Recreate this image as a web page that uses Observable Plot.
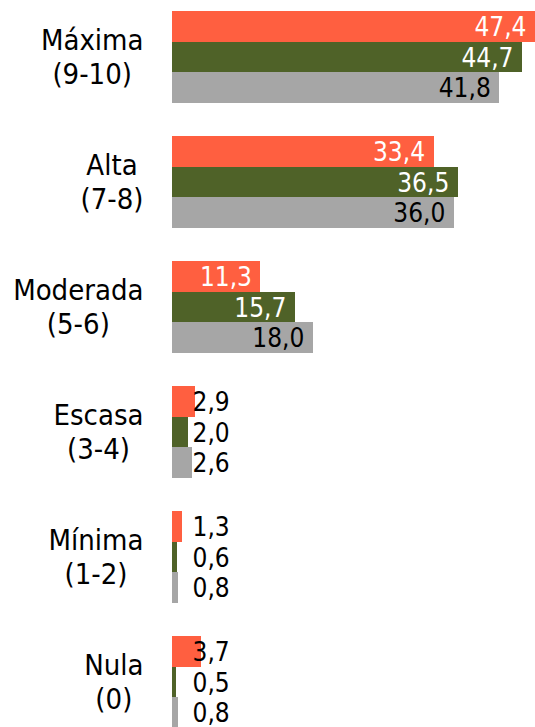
<!DOCTYPE html>
<html>
<head>
<meta charset="utf-8">
<script src="https://cdn.jsdelivr.net/npm/d3@7"></script>
<script src="https://cdn.jsdelivr.net/npm/@observablehq/plot@0.6"></script>
<style>
  html, body { margin: 0; padding: 0; background: #fff; overflow: hidden; }
</style>
</head>
<body>
<div id="chart"></div>
<script>
const categories = ["Máxima\n(9-10)", "Alta\n(7-8)", "Moderada\n(5-6)", "Escasa\n(3-4)", "Mínima\n(1-2)", "Nula\n(0)"];
const series = ["Serie 1", "Serie 2", "Serie 3"];
const values1 = [47.4, 33.4, 11.3, 2.9, 1.3, 3.7];
const values2 = [44.7, 36.5, 15.7, 2.0, 0.6, 0.5];
const values3 = [41.8, 36.0, 18.0, 2.6, 0.8, 0.8];
const colors = ["#ff5f40", "#4f6228", "#a6a6a6"];

const allValues = [values1, values2, values3];
const data = [];
categories.forEach((c, i) => {
  series.forEach((s, j) => {
    data.push({category: c, series: s, value: allValues[j][i], idx: j});
  });
});

const FONT = "DejaVu Sans Condensed";
const labelSize = 29;
const valueSize = 26;
const xMax = 46.36;
const fmt = v => v.toFixed(1).replace(".", ",");

const canvas = document.createElement("canvas");
const ctx = canvas.getContext("2d");
ctx.font = `${labelSize}px "${FONT}"`;

const big = data.filter(d => d.value >= 5);
const small = data.filter(d => d.value < 5);

const labelMarks = categories.map(c => {
  const w = Math.max(...c.split("\n").map(l => ctx.measureText(l).width));
  return Plot.text([c], {
    fy: d => d,
    text: d => d,
    frameAnchor: "left",
    textAnchor: "middle",
    dx: -29 - w / 2,
    dy: -1,
    lineHeight: 1.17,
    fontSize: labelSize,
    fill: "#000"
  });
});

const plot = Plot.plot({
  width: 535,
  height: 727,
  marginLeft: 172,
  marginRight: 0,
  marginTop: 11,
  marginBottom: -1,
  style: {fontFamily: FONT, background: "#fff", overflow: "hidden"},
  x: {domain: [0, xMax], axis: null},
  y: {domain: series, axis: null, paddingInner: 0, paddingOuter: 0, round: false},
  fy: {domain: categories, axis: null, paddingInner: 0.264, paddingOuter: 0, round: false},
  color: {domain: series, range: colors},
  marks: [
    Plot.barX(data, {x: "value", y: "series", fy: "category", fill: "series", insetTop: 0, insetBottom: 0, shapeRendering: "crispEdges"}),
    Plot.text(big, {
      x: d => Math.min(d.value, xMax),
      y: "series",
      fy: "category",
      text: d => fmt(d.value),
      textAnchor: "end",
      dx: -9,
      dy: 1,
      fontSize: valueSize,
      fill: d => d.idx === 2 ? "#000" : "#fff"
    }),
    Plot.text(small, {
      x: 0,
      y: "series",
      fy: "category",
      text: d => fmt(d.value),
      textAnchor: "start",
      dx: 20,
      dy: 1,
      fontSize: valueSize,
      fill: "#000"
    }),
    ...labelMarks
  ]
});

document.getElementById("chart").append(plot);
</script>
</body>
</html>
